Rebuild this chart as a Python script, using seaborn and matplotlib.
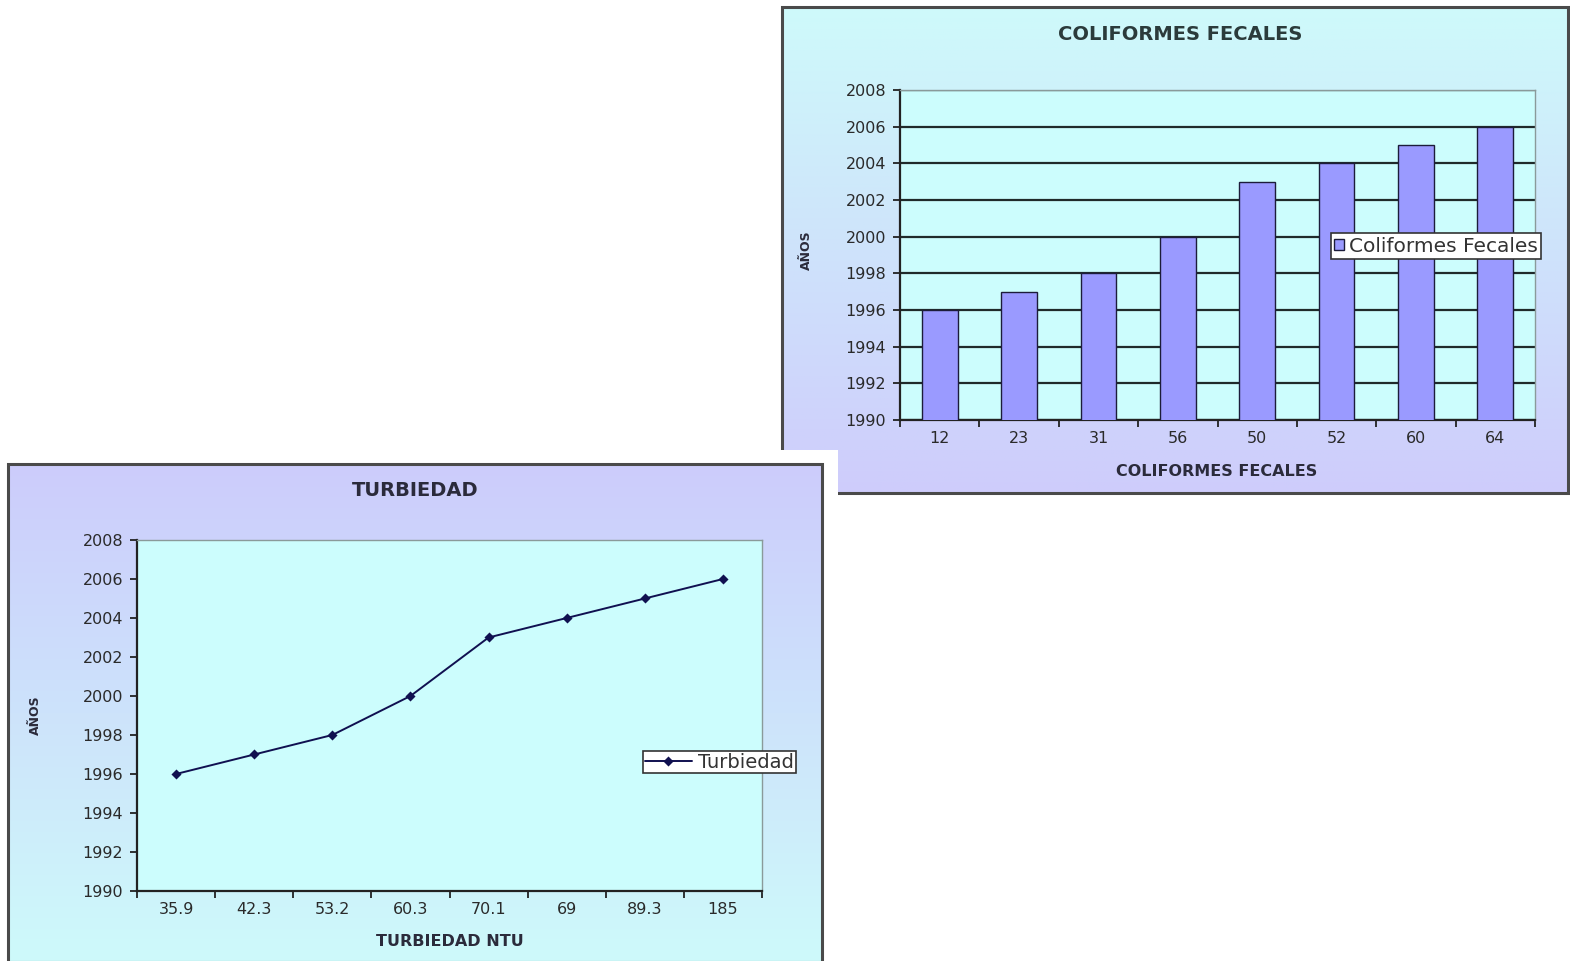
import numpy as np
import matplotlib
matplotlib.use("Agg")
import matplotlib.pyplot as plt
from matplotlib.patches import Rectangle
import seaborn as sns

# --- data -------------------------------------------------------------
coli_labels = ["12", "23", "31", "56", "50", "52", "60", "64"]
coli_years = [1996, 1997, 1998, 2000, 2003, 2004, 2005, 2006]

turb_labels = ["35.9", "42.3", "53.2", "60.3", "70.1", "69", "89.3", "185"]
turb_years = [1996, 1997, 1998, 2000, 2003, 2004, 2005, 2006]

year_ticks = list(range(1990, 2009, 2))

# --- figure -----------------------------------------------------------
sns.set_theme(style="white")
plt.rcParams["font.family"] = ["DejaVu Sans"]

W, H = 1570, 961
fig = plt.figure(figsize=(W / 100, H / 100), dpi=100, facecolor="white")


def px_rect(x0, y0, x1, y1):
    """Pixel box (top-left origin) -> figure-fraction rect."""
    return [x0 / W, 1 - y1 / H, (x1 - x0) / W, (y1 - y0) / H]


def gradient_panel(rect, top_rgb, bottom_rgb, zorder=0, border=True):
    ax = fig.add_axes(rect, zorder=zorder)
    t = np.linspace(0, 1, 256)[:, None]
    top = np.array(top_rgb) / 255.0
    bot = np.array(bottom_rgb) / 255.0
    img = (1 - t)[..., None] * top + t[..., None] * bot
    img = np.repeat(img, 4, axis=1)
    ax.imshow(img, aspect="auto", extent=(0, 1, 0, 1), origin="upper")
    ax.set_xlim(0, 1)
    ax.set_ylim(0, 1)
    ax.axis("off")
    if border:
        ax.add_patch(Rectangle((0, 0), 1, 1, transform=ax.transAxes,
                               fill=False, edgecolor="#4a4a4a", lw=2.2,
                               clip_on=False))
    return ax


def style_axes(ax, fs):
    ax.set_ylim(1990, 2008)
    ax.set_yticks(year_ticks)
    ax.set_yticklabels([str(y) for y in year_ticks], fontsize=fs, color="#2a2a2a")
    ax.set_xlim(-0.5, 7.5)
    ax.set_xticks(np.arange(8))
    ax.set_xticks(np.arange(-0.5, 8.0, 1.0), minor=True)
    ax.tick_params(axis="x", which="major", length=0, pad=8,
                   labelsize=fs, labelcolor="#2a2a2a")
    ax.tick_params(axis="x", which="minor", length=5, width=1.3,
                   color="#222222", direction="out", bottom=True)
    ax.tick_params(axis="y", length=5, width=1.3, color="#222222",
                   direction="out", left=True, pad=5)
    for side in ("left", "bottom"):
        ax.spines[side].set_color("#222222")
        ax.spines[side].set_linewidth(1.6)
    for side in ("top", "right"):
        ax.spines[side].set_color("#8a9a9a")
        ax.spines[side].set_linewidth(1.0)
    ax.set_xlabel("")
    ax.set_ylabel("")


# ---------------- COLIFORMES FECALES (bar chart) ----------------------
gradient_panel(px_rect(782, 7, 1568, 493), (206, 250, 250), (206, 204, 252), zorder=0)

ax1 = fig.add_axes(px_rect(900, 90, 1535, 420), zorder=1)
ax1.set_facecolor("#ccfdfd")
sns.barplot(x=coli_labels, y=coli_years, order=coli_labels, ax=ax1,
            color="#9a9aff", saturation=1, width=0.45,
            edgecolor="#1c1c3a", linewidth=1.0, zorder=3)
style_axes(ax1, 11.5)
ax1.yaxis.grid(True, color="#1f2a2a", linewidth=1.6, zorder=1)
ax1.set_axisbelow(True)

fig.text(1180 / W, 1 - 35 / H, "COLIFORMES FECALES", ha="center", va="center",
         fontsize=14, fontweight="bold", color="#2b3b3b", zorder=3)
fig.text(1217 / W, 1 - 471 / H, "COLIFORMES FECALES", ha="center", va="center",
         fontsize=11.5, fontweight="bold", color="#2b2b3b", zorder=3)
fig.text(806 / W, 1 - 250 / H, "AÑOS", ha="center", va="center", rotation=90,
         fontsize=9, fontweight="bold", color="#2b2b3b", zorder=3)

leg1 = ax1.legend(handles=[ax1.patches[0]], labels=["Coliformes Fecales"],
                  loc="center left", bbox_to_anchor=(1331 / W, 1 - 246 / H),
                  bbox_transform=fig.transFigure, fontsize=14.5, frameon=True,
                  fancybox=False, edgecolor="#333333", facecolor="white",
                  framealpha=1, handlelength=0.5, handleheight=0.5,
                  handletextpad=0.25, borderpad=0.15, borderaxespad=0)
leg1.get_frame().set_linewidth(1.2)
for txt in leg1.get_texts():
    txt.set_color("#333333")

# ---------------- TURBIEDAD (line chart) ------------------------------
# white margin of the lower panel overlapping the upper one
mask = fig.add_axes(px_rect(0, 450, 838, 961), zorder=4)
mask.set_facecolor("white")
mask.axis("off")
mask.add_patch(Rectangle((0, 0), 1, 1, transform=mask.transAxes,
                         facecolor="white", edgecolor="none"))

gradient_panel(px_rect(8, 464, 822, 962), (204, 204, 252), (206, 250, 250), zorder=5)

ax2 = fig.add_axes(px_rect(137, 540, 762, 891), zorder=6)
ax2.set_facecolor("#ccfdfd")
sns.pointplot(x=turb_labels, y=turb_years, order=turb_labels, ax=ax2,
              color="#101050", marker="D", markersize=4.5, linewidth=1.4)
style_axes(ax2, 11.5)

fig.text(415 / W, 1 - 490 / H, "TURBIEDAD", ha="center", va="center",
         fontsize=14, fontweight="bold", color="#2b2b3b", zorder=8)
fig.text(450 / W, 1 - 941 / H, "TURBIEDAD NTU", ha="center", va="center",
         fontsize=11.5, fontweight="bold", color="#2b2b3b", zorder=8)
fig.text(35 / W, 1 - 715 / H, "AÑOS", ha="center", va="center", rotation=90,
         fontsize=9, fontweight="bold", color="#2b2b3b", zorder=8)

leg2 = ax2.legend(handles=[ax2.lines[0]], labels=["Turbiedad"],
                  loc="center left", bbox_to_anchor=(643 / W, 1 - 762 / H),
                  bbox_transform=fig.transFigure, fontsize=14, frameon=True,
                  fancybox=False, edgecolor="#333333", facecolor="white",
                  framealpha=1, handlelength=2.4, handletextpad=0.35,
                  borderpad=0.1, borderaxespad=0)
leg2.get_frame().set_linewidth(1.2)
leg2.set_zorder(10)
for txt in leg2.get_texts():
    txt.set_color("#333333")

fig.savefig("out.png", dpi=100, facecolor="white")
